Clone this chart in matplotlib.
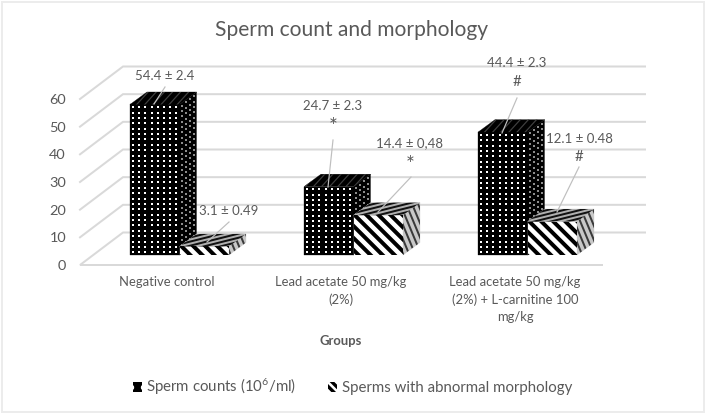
"""
Sperm count and morphology, 3D-look clustered columns drawn on a 2D axes.
"""
import matplotlib
matplotlib.use("Agg")
import matplotlib.pyplot as plt
from matplotlib.lines import Line2D
from matplotlib.patches import Patch, Polygon, Rectangle
import numpy as np

GROUPS = ["Negative control", "Lead acetate 50 mg/kg\n(2%)",
          "Lead acetate 50 mg/kg\n(2%) + L-carnitine 100\nmg/kg"]
COUNTS = [54.4, 24.7, 44.4]
ABNORMAL = [3.1, 14.4, 12.1]
SERIES_NAMES = ["Sperm counts (10$^6$/ml)", "Sperms with abnormal morphology"]
Y_TICKS = [0, 10, 20, 30, 40, 50, 60]

# (text, centre x, first line y, mark, mark y, leader from, leader to), image pixels
LABELS = [
    ("54.4 ± 2.4", 165, 76, "", 0, (165, 87), (154, 104)),
    ("3.1 ± 0.49", 229, 211, "", 0, (229, 222), (207, 242)),
    ("24.7 ± 2.3", 333, 106, "*", 124, (333, 140), (328, 187)),
    ("14.4 ± 0,48", 410, 143, "*", 162, (411, 177), (378, 212)),
    ("44.4 ± 2.3", 517, 63, "#", 82, (517, 98), (502, 133)),
    ("12.1 ± 0.48", 579, 139, "#", 157, (579, 167), (557, 212)),
]

W, H = 709, 419
DPI = 150
TXT = "#595959"
GRID = "#d9d9d9"

plt.rcParams["font.family"] = ["Lato", "DejaVu Sans"]
plt.rcParams["mathtext.default"] = "regular"
plt.rcParams["hatch.linewidth"] = 1.6

PT = 72 / DPI  # one image pixel in points

fig = plt.figure(figsize=(W / DPI, H / DPI), dpi=DPI, facecolor="white")
fig.add_artist(Rectangle((1.5 / W, 1 - 412 / H), 702 / W, 410 / H, fill=False,
                         edgecolor="#ececec", lw=2 * PT, transform=fig.transFigure))

# axes box = front edge of the floor (x 80..602) and front wall (y 265..99)
ax = fig.add_axes([80 / W, 1 - 265 / H, 522 / W, 166 / H])
ax.set_xlim(0, 3)
ax.set_ylim(0, 60)
ax.patch.set_visible(False)
for s in ax.spines.values():
    s.set_visible(False)

PX_X = 3 / 522
PX_Y = 60 / 166
DEPTH_X = 43 * PX_X   # full chart depth
DEPTH_Y = 32.5 * PX_Y
BAR_W = 49.5 * PX_X
BAR_DX = 17 * PX_X    # bar depth
BAR_DY = 12.5 * PX_Y
BASE_DX = 13 * PX_X   # bars stand inside the floor
BASE_DY = 10 * PX_Y


def px(x, y):
    return x / W, 1 - y / H


# walls and floor
for t in Y_TICKS:
    xs = [0, DEPTH_X, 3 + DEPTH_X]
    ys = [t, t + DEPTH_Y, t + DEPTH_Y]
    if t == 0:
        xs = [3, 0, DEPTH_X, 3 + DEPTH_X]
        ys = [0, 0, DEPTH_Y, DEPTH_Y]
    ax.plot(xs, ys, color=GRID, lw=2 * PT, clip_on=False, zorder=1,
            solid_joinstyle="miter")


def face(pts, fc, z):
    p = Polygon(pts, closed=True, facecolor=fc, edgecolor=fc, lw=0.3 * PT,
                clip_on=False, zorder=z)
    ax.add_patch(p)
    return p


def stripes(patch, direction, period, color, lw, z):
    # parallel lines across a face, given in image pixels, clipped to the face
    pts = patch.get_xy() / [PX_X, PX_Y]
    d = np.array(direction, float)
    d /= np.hypot(*d)
    n = np.array([-d[1], d[0]])
    proj = pts @ n
    span = np.ptp(pts @ d) + 5
    mid = pts.mean(axis=0)
    for off in np.arange(np.floor(proj.min() / period), np.ceil(proj.max() / period) + 1) * period:
        c = mid + n * (off - mid @ n)
        a, b = (c - d * span) * [PX_X, PX_Y], (c + d * span) * [PX_X, PX_Y]
        line, = ax.plot([a[0], b[0]], [a[1], b[1]], color=color, lw=lw * PT, zorder=z,
                        solid_capstyle="butt")
        line.set_clip_path(patch)
        line.set_clip_box(None)


def dots(x0, y0, ux, uy, vx, vy, nu, nv, color, size, z):
    a, b = np.meshgrid((np.arange(nu) + 0.5) / nu, (np.arange(nv) + 0.5) / nv)
    xs = x0 + a * ux + b * vx
    ys = y0 + a * uy + b * vy
    ax.scatter(xs.ravel(), ys.ravel(), s=size, c=color, marker="s", lw=0,
               clip_on=False, zorder=z)


def faces(x, val, fc, sc, tc, z):
    y = BASE_DY
    top = y + val
    front = face([(x, y), (x + BAR_W, y), (x + BAR_W, top), (x, top)], fc, z)
    side = face([(x + BAR_W, y), (x + BAR_W + BAR_DX, y + BAR_DY),
                 (x + BAR_W + BAR_DX, top + BAR_DY), (x + BAR_W, top)], sc, z)
    lid = face([(x, top), (x + BAR_DX, top + BAR_DY),
                (x + BAR_W + BAR_DX, top + BAR_DY), (x + BAR_W, top)], tc, z)
    return front, side, lid


def dotted_bar(x, val, z):
    front, side, lid = faces(x, val, "black", "black", "black", z)
    stripes(lid, (1, 1.1), 6, "#404040", 1.2, z + 0.1)
    nv = int(round(val / PX_Y / 5.4))
    s = (2 * PT) ** 2
    dots(x, BASE_DY, BAR_W, 0, 0, val, 8, nv, "white", s, z + 0.1)
    dots(x + BAR_W, BASE_DY, BAR_DX, BAR_DY, 0, val, 4, nv, "#8c8c8c", s * 0.8, z + 0.1)


def striped_bar(x, val, z):
    front, side, lid = faces(x, val, "white", "#c8c8c8", "#b0b0b0", z)
    stripes(front, (1, -1), 8.5, "black", 4, z + 0.1)
    stripes(side, (5, -12), 5.5, "#3a3a3a", 2, z + 0.1)
    stripes(lid, (1, 0.25), 4, "#111111", 2, z + 0.1)


# groups are 174 px wide, first column starts 50 px from the floor corner
for i in range(len(GROUPS)):
    x0 = i + (50 - 13) * PX_X + BASE_DX
    dotted_bar(x0, COUNTS[i], 3 + i * 2)
    striped_bar(x0 + BAR_W, ABNORMAL[i], 4 + i * 2)

ax.set_yticks(Y_TICKS)
ax.set_xticks(np.arange(len(GROUPS)) + 0.5)
ax.set_xticklabels(GROUPS, linespacing=1.5)
ax.tick_params(axis="both", length=0, labelcolor=TXT, labelsize=13 * PT)
ax.tick_params(axis="y", labelsize=14.5 * PT, pad=14 * PT)
ax.tick_params(axis="x", pad=11 * PT)
ax.set_xlabel("Groups", fontsize=13 * PT, fontweight="bold", color=TXT)
ax.xaxis.set_label_coords(0.5, -(341 - 265) / 166, transform=ax.transAxes)
ax.xaxis.label.set_verticalalignment("center")

fig.text(*px(352, 30), "Sperm count and morphology", fontsize=21 * PT, color=TXT,
         ha="center", va="center")

for txt, cx, cy, mark, my, a, b in LABELS:
    fig.text(*px(cx, cy), txt, fontsize=13.3 * PT, color=TXT, ha="center", va="center", zorder=20)
    if mark:
        fig.text(*px(cx, my + (3 if mark == "*" else 0)), mark, fontsize=(21 if mark == "*" else 15) * PT,
                 color=TXT, ha="center", va="center", zorder=20)
    fig.add_artist(Line2D([a[0] / W, b[0] / W], [1 - a[1] / H, 1 - b[1] / H],
                          color="#bfbfbf", lw=1.2 * PT, zorder=20))

handles = [Patch(facecolor="black", edgecolor="white", hatch="..", lw=0),
           Patch(facecolor="white", edgecolor="black", hatch="\\\\\\\\\\\\", lw=0)]
fig.legend(handles, SERIES_NAMES, loc="center", bbox_to_anchor=(352.5 / W, 1 - 387 / H),
           ncol=2, frameon=False, fontsize=15 * PT, labelcolor=TXT, handlelength=0.62,
           handleheight=0.62, handletextpad=0.3, columnspacing=2.1)

fig.savefig("out.png", dpi=DPI, facecolor="white")
